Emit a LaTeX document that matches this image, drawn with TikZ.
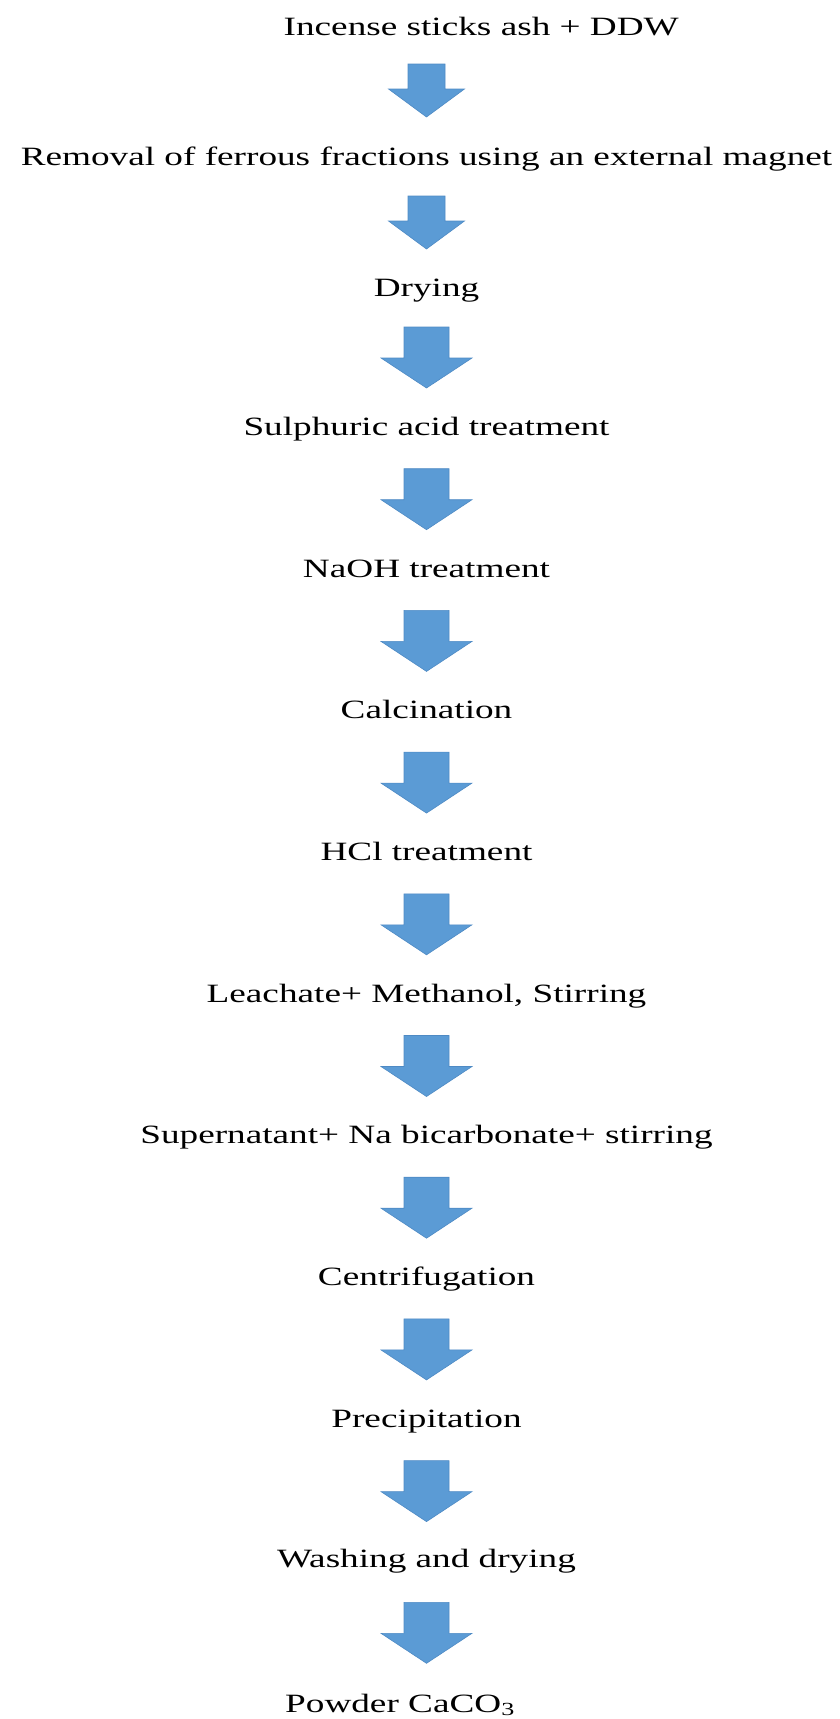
\documentclass[tikz,border=0pt]{standalone}
\usepackage{fontspec}
\setmainfont{Liberation Serif}[FakeStretch=1.41]
\definecolor{arrowblue}{RGB}{91,155,213}
\definecolor{arrowedge}{RGB}{78,138,196}
\newcommand{\blkarrow}[6]{%
  % #1 name, #2 top y, #3 shaft half width, #4 head half width, #5 shaft height, #6 head height
  \coordinate (#1) at (426.5,#2);
  \draw[blk] ([xshift=-#3pt]#1) -- ([xshift=#3pt]#1) -- ([xshift=#3pt,yshift=-#5pt]#1)
    -- ([xshift=#4pt,yshift=-#5pt]#1) -- ([yshift=-#5pt-#6pt]#1)
    -- ([xshift=-#4pt,yshift=-#5pt]#1) -- ([xshift=-#3pt,yshift=-#5pt]#1) -- cycle;}
\begin{document}
\begin{tikzpicture}[x=1pt,y=-1pt,
  txt/.style={anchor=base, inner sep=0pt, font=\fontsize{26.4}{30}\selectfont},
  blk/.style={fill=arrowblue, draw=arrowedge, line width=0.6pt, line join=miter}]
\useasboundingbox (0,0) rectangle (839,1719);
\node[txt, anchor=base west] (t1) at (283.5,35) {Incense sticks ash + DDW};
\node[txt] (t2) at (426.5,165.5) {Removal of ferrous fractions using an external magnet};
\node[txt] (t3) at (426.5,296.5) {Drying};
\node[txt] (t4) at (426.5,435.4) {Sulphuric acid treatment};
\node[txt] (t5) at (426.5,577.1) {NaOH treatment};
\node[txt] (t6) at (426.5,718.8) {Calcination};
\node[txt] (t7) at (426.5,860.5) {HCl treatment};
\node[txt] (t8) at (426.5,1002.2) {Leachate+ Methanol, Stirring};
\node[txt] (t9) at (426.5,1143.9) {Supernatant+ Na bicarbonate+ stirring};
\node[txt] (t10) at (426.5,1285.6) {Centrifugation};
\node[txt] (t11) at (426.5,1427.3) {Precipitation};
\node[txt] (t12) at (426.5,1567.0) {Washing and drying};
\node[txt, anchor=base west] (t13) at (285,1712) {Powder CaCO\textsubscript{3}};
\blkarrow{a1}{64}{18.5}{38}{25}{28}
\blkarrow{a2}{196}{18.5}{38}{25}{28}
\foreach \i in {0,...,9} {
  \pgfmathsetmacro{\yt}{327+141.7*\i}
  \blkarrow{a\i b}{\yt}{22.5}{45.5}{31}{30}
}
\end{tikzpicture}
\end{document}
